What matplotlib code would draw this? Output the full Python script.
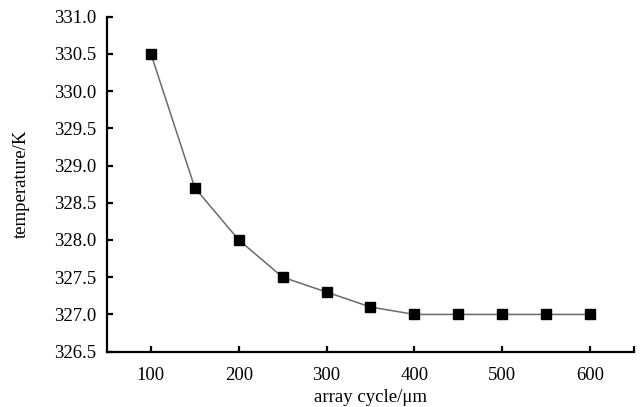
import matplotlib
matplotlib.use("Agg")
import matplotlib.pyplot as plt

# data
array_cycle = [100, 150, 200, 250, 300, 350, 400, 450, 500, 550, 600]
temperature = [330.5, 328.7, 328.0, 327.5, 327.3, 327.1, 327.0, 327.0, 327.0, 327.0, 327.0]
x_ticks = [100, 200, 300, 400, 500, 600]
y_ticks = [326.5, 327.0, 327.5, 328.0, 328.5, 329.0, 329.5, 330.0, 330.5, 331.0]

plt.rc("font", family="Liberation Serif", size=13.5)

fig = plt.figure(figsize=(6.41, 4.07), dpi=100)
ax = fig.add_axes([0.167, 0.136, 0.822, 0.823])

ax.plot(array_cycle, temperature, color="#6a6a6a", linewidth=1.1,
        marker="s", markersize=6.8, markerfacecolor="black",
        markeredgecolor="black")

ax.set_xlim(50, 650)
ax.set_ylim(326.5, 331.0)
ax.set_xticks(x_ticks)
ax.set_xticks([650], minor=True)
ax.set_yticks(y_ticks)
ax.set_yticklabels([f"{v:.1f}" for v in y_ticks])

for side in ("top", "right"):
    ax.spines[side].set_visible(False)
for side in ("left", "bottom"):
    ax.spines[side].set_linewidth(1.6)

ax.tick_params(direction="in", length=4, width=1.6, labelsize=13.5)
ax.tick_params(axis="x", which="minor", direction="in", length=4, width=1.6)
ax.tick_params(axis="x", pad=11)
ax.tick_params(axis="y", pad=8)

ax.set_xlabel("array cycle/μm", fontsize=13.5, labelpad=4)
ax.set_ylabel("temperature/K", fontsize=13.5, labelpad=17)

fig.savefig("out.png", dpi=100)
